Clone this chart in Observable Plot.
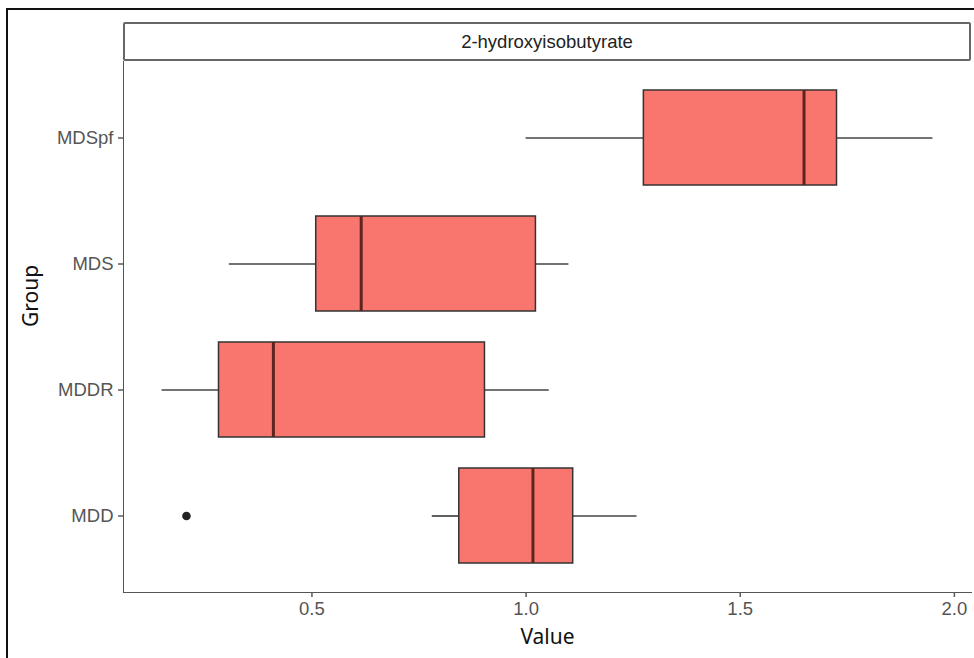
<!DOCTYPE html>
<html>
<head>
<meta charset="utf-8">
<script src="https://cdn.jsdelivr.net/npm/d3@7"></script>
<script src="https://cdn.jsdelivr.net/npm/@observablehq/plot@0.6"></script>
<style>
  html, body { margin: 0; padding: 0; background: #fff; }
  #wrap { position: relative; width: 974px; height: 658px; overflow: hidden; background: #fff; font-family: "Liberation Sans", Arial, Helvetica, sans-serif; }
  #frame { position: absolute; left: 6px; top: 8px; right: -10px; bottom: -10px; border-top: 2px solid #111; border-left: 2px solid #111; pointer-events: none; }
  #strip { position: absolute; left: 123px; top: 22px; width: 848px; height: 39px; box-sizing: border-box; border: 2.5px solid #666; border-radius: 2px; background: #fff; display: flex; align-items: center; justify-content: center; font-size: 18.5px; color: #222; }
  #wrap svg { position: absolute; left: 0; top: 0; overflow: visible; }
  #wrap svg g[aria-label*="axis"] text { font-size: 18.5px; fill: #555; font-family: "Liberation Sans", Arial, sans-serif; }
  #wrap svg g[aria-label*="title-text"] text { font-family: "Liberation Sans", Arial, sans-serif; }
</style>
</head>
<body>
<div id="wrap">
  <div id="chart"></div>
  <div id="strip"></div>
  <div id="frame"></div>
</div>
<script>
// ---- data ----
const groups       = ["MDSpf", "MDS", "MDDR", "MDD"];
const lowerWhisker = [1.000, 0.307, 0.150, 0.781];
const q1           = [1.275, 0.510, 0.283, 0.844];
const median       = [1.649, 0.615, 0.410, 1.016];
const q3           = [1.726, 1.023, 0.904, 1.110];
const upperWhisker = [1.950, 1.100, 1.054, 1.259];
const outlierGroup = ["MDD"];
const outlierValue = [0.207];
const xTicks = [0.5, 1.0, 1.5, 2.0];
const xDomain = [0.06, 2.04];
const stripLabel = "2-hydroxyisobutyrate";
const xTitle = "Value";
const yTitle = "Group";

const boxes = groups.map((g, i) => ({
  group: g, lo: lowerWhisker[i], q1: q1[i], med: median[i], q3: q3[i], hi: upperWhisker[i]
}));
const outliers = outlierGroup.map((g, i) => ({group: g, value: outlierValue[i]}));

document.getElementById("strip").textContent = stripLabel;

const chart = Plot.plot({
  width: 974,
  height: 658,
  marginLeft: 123,
  marginRight: 3,
  marginTop: 61,
  marginBottom: 66,
  style: {background: "transparent", color: "#555", overflow: "visible"},
  x: {
    domain: xDomain,
    ticks: xTicks,
    tickFormat: d3.format(".1f"),
    tickSize: 5,
    tickPadding: 4,
    line: true,
    label: null
  },
  y: {
    type: "band",
    domain: groups,
    paddingInner: 0.25,
    paddingOuter: 0.225,
    tickSize: 5,
    tickPadding: 5,
    line: true,
    label: null
  },
  marks: [
    Plot.ruleY(boxes, {y: "group", x1: "lo", x2: "q1", stroke: "#444", strokeWidth: 1.7}),
    Plot.ruleY(boxes, {y: "group", x1: "q3", x2: "hi", stroke: "#444", strokeWidth: 1.7}),
    Plot.barX(boxes, {y: "group", x1: "q1", x2: "q3", fill: "#F8766D", stroke: "#333333", strokeWidth: 1.5}),
    Plot.tickX(boxes, {y: "group", x: "med", stroke: "#5e2520", strokeWidth: 3}),
    Plot.dot(outliers, {y: "group", x: "value", r: 4.3, fill: "#222222", stroke: "none"}),
    Plot.text([xTitle], {text: d => d, frameAnchor: "bottom", dy: 51, fontSize: 21, fill: "#111", ariaLabel: "title-text"}),
    Plot.text([yTitle], {text: d => d, frameAnchor: "left", dx: -92, rotate: -90, fontSize: 21, fill: "#111", ariaLabel: "title-text"})
  ]
});

document.getElementById("chart").appendChild(chart);

// ggplot classic theme: grey, heavier axis lines; lighter ticks
chart.querySelectorAll('g[aria-label*="axis"] line, g[aria-label*="axis"] path').forEach(el => {
  let b;
  try { b = el.getBBox(); } catch (e) { b = {width: 0, height: 0}; }
  el.style.stroke = "#5a5a5a";
  el.style.strokeWidth = (b.width > 100 || b.height > 100) ? "2.5px" : "1.5px";
});
</script>
</body>
</html>
